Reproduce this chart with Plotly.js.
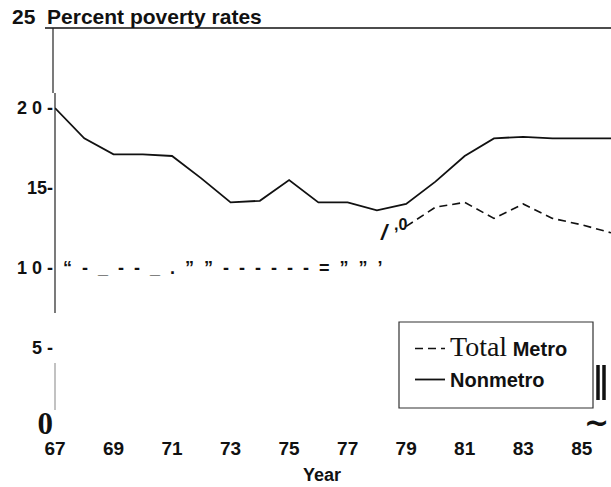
<!DOCTYPE html>
<html><head><meta charset="utf-8">
<script src="https://cdn.plot.ly/plotly-3.0.1.min.js"></script>
<style>html,body{margin:0;padding:0;background:#fff}#chart{width:611px;height:487px}</style>
</head><body><div id="chart"></div>
<script>
// ---- data ----
const years = [67,68,69,70,71,72,73,74,75,76,77,78,79,80,81,82,83,84,85,86];
const nonmetro = [20.0,18.1,17.1,17.1,17.0,15.6,14.1,14.2,15.5,14.1,14.1,13.6,14.0,15.4,17.0,18.1,18.2,18.1,18.1,18.1];
const metroYears = [79,80,81,82,83,84,85,86];
const metro = [12.6,13.8,14.1,13.1,14.0,13.1,12.7,12.2];
const xTickVals = [67,69,71,73,75,77,79,81,83,85];
const xTickText = ["67","69","71","73","75","77","79","81","83","85"];
const yTickVals = [0,5,10,15,20];
const yTickText = ['<span style="font-family:Liberation Serif,Times New Roman,serif;font-size:31px">0</span>','5 -','1 0 -','15-','2 0 -'];
const metroEarlyText = "\u201C\u00a0\u00a0-\u00a0\u00a0_\u00a0\u00a0-\u00a0\u00a0-\u00a0\u00a0_\u00a0\u00a0.\u00a0\u00a0\u201D\u00a0\u00a0\u201D\u00a0\u00a0-\u00a0\u00a0-\u00a0\u00a0-\u00a0\u00a0-\u00a0\u00a0-\u00a0\u00a0-\u00a0\u00a0=\u00a0\u00a0\u201D\u00a0\u00a0\u201D\u00a0\u00a0\u2019";
const titleText = "25\u00a0\u00a0Percent poverty rates";

// ---- layout helpers ----
const W = 611, H = 487, L = 55, R = 0, T = 28, B = 59;
const pw = W - L - R, ph = H - T - B;
const px = v => (v - L) / pw;          // pixel x -> paper
const py = v => (H - B - v) / ph;      // pixel y -> paper
const font = 'Liberation Sans, Arial, sans-serif';

const traces = [
  {x: metroYears, y: metro, type: 'scatter', mode: 'lines', name: '<span style="font-family:Liberation Serif,Times New Roman,serif;font-weight:normal;font-size:28px">Total</span> Metro',
   line: {color: '#111', width: 1.6, dash: '8px,5px'}, legendgroup: 'a', hoverinfo: 'skip'},
  {x: years, y: nonmetro, type: 'scatter', mode: 'lines', name: 'Nonmetro',
   line: {color: '#111', width: 1.8}, legendgroup: 'b', hoverinfo: 'skip'}
];

const layout = {
  width: W, height: H,
  margin: {l: L, r: R, t: T, b: B},
  paper_bgcolor: '#fff', plot_bgcolor: '#fff',
  font: {family: font, color: '#111'},
  title: {text: '<b>' + titleText + '</b>', font: {size: 21, family: font, color: '#111'},
          xref: 'container', yref: 'container', x: 12 / W, xanchor: 'left', y: 1 - 17 / H, yanchor: 'middle'},
  xaxis: {range: [67, 86], tickvals: xTickVals, ticktext: xTickText, showgrid: false, zeroline: false,
          showline: false, ticks: '', ticklabelstandoff: 7,
          tickfont: {size: 19, family: font, weight: 'bold', color: '#111'}},
  yaxis: {range: [0, 25], tickvals: yTickVals, ticktext: yTickText, showgrid: false, zeroline: false,
          showline: false, ticks: '', ticklabelstandoff: 1,
          tickfont: {size: 18, family: font, weight: 'bold', color: '#111'}},
  showlegend: true,
  legend: {x: px(410), y: py(329), xanchor: 'left', yanchor: 'top', bgcolor: 'rgba(0,0,0,0)', borderwidth: 0,
           font: {size: 20, family: font, weight: 'bold', color: '#111'}, itemwidth: 30,
           traceorder: 'grouped', tracegroupgap: 2},
  shapes: [
    {type: 'line', xref: 'paper', yref: 'paper', x0: px(45), x1: 1, y0: 1, y1: 1, line: {color: '#111', width: 1.6}},
    {type: 'line', xref: 'paper', yref: 'paper', x0: px(53), x1: px(53), y0: 1, y1: py(93), line: {color: '#222', width: 1.2}},
    {type: 'line', xref: 'paper', yref: 'paper', x0: px(55), x1: px(55), y0: py(93), y1: py(313), line: {color: '#222', width: 1.2}},
    {type: 'line', xref: 'paper', yref: 'paper', x0: px(55), x1: px(55), y0: py(363), y1: py(410), line: {color: '#999', width: 1.2}},
    {type: 'rect', xref: 'paper', yref: 'paper', x0: px(399), x1: px(593), y0: py(408), y1: py(322), line: {color: '#333', width: 1.2}},
    {type: 'line', xref: 'paper', yref: 'paper', x0: px(598), x1: px(598), y0: py(365), y1: py(400), line: {color: '#111', width: 3.5}},
    {type: 'line', xref: 'paper', yref: 'paper', x0: px(604), x1: px(604), y0: py(365), y1: py(400), line: {color: '#111', width: 3.5}}
  ],
  annotations: [
    {text: '<b>' + metroEarlyText + '</b>', xref: 'paper', yref: 'y', x: px(61), y: 10, xanchor: 'left', yanchor: 'middle',
     showarrow: false, font: {size: 18, family: font, color: '#111'}},
    {text: '<b><i>/</i></b>', xref: 'x', yref: 'y', x: 78.28, y: 12.25, showarrow: false, font: {size: 22, family: font, color: '#111'}},
    {text: '<b>,0</b>', xref: 'x', yref: 'y', x: 78.8, y: 12.7, showarrow: false, font: {size: 16, family: font, color: '#111'}},
    {text: '<b>~</b>', xref: 'paper', yref: 'paper', x: 1, y: py(422), xanchor: 'right', yanchor: 'middle', showarrow: false,
     font: {size: 30, family: 'DejaVu Sans, Liberation Sans, sans-serif', color: '#111'}},
    {text: '<b>Year</b>', xref: 'paper', yref: 'paper', x: px(322), y: py(475), xanchor: 'center', yanchor: 'middle', showarrow: false,
     font: {size: 18, family: font, color: '#111'}}
  ]
};

Plotly.newPlot('chart', traces, layout, {displayModeBar: false, staticPlot: true});
</script>
</body></html>
